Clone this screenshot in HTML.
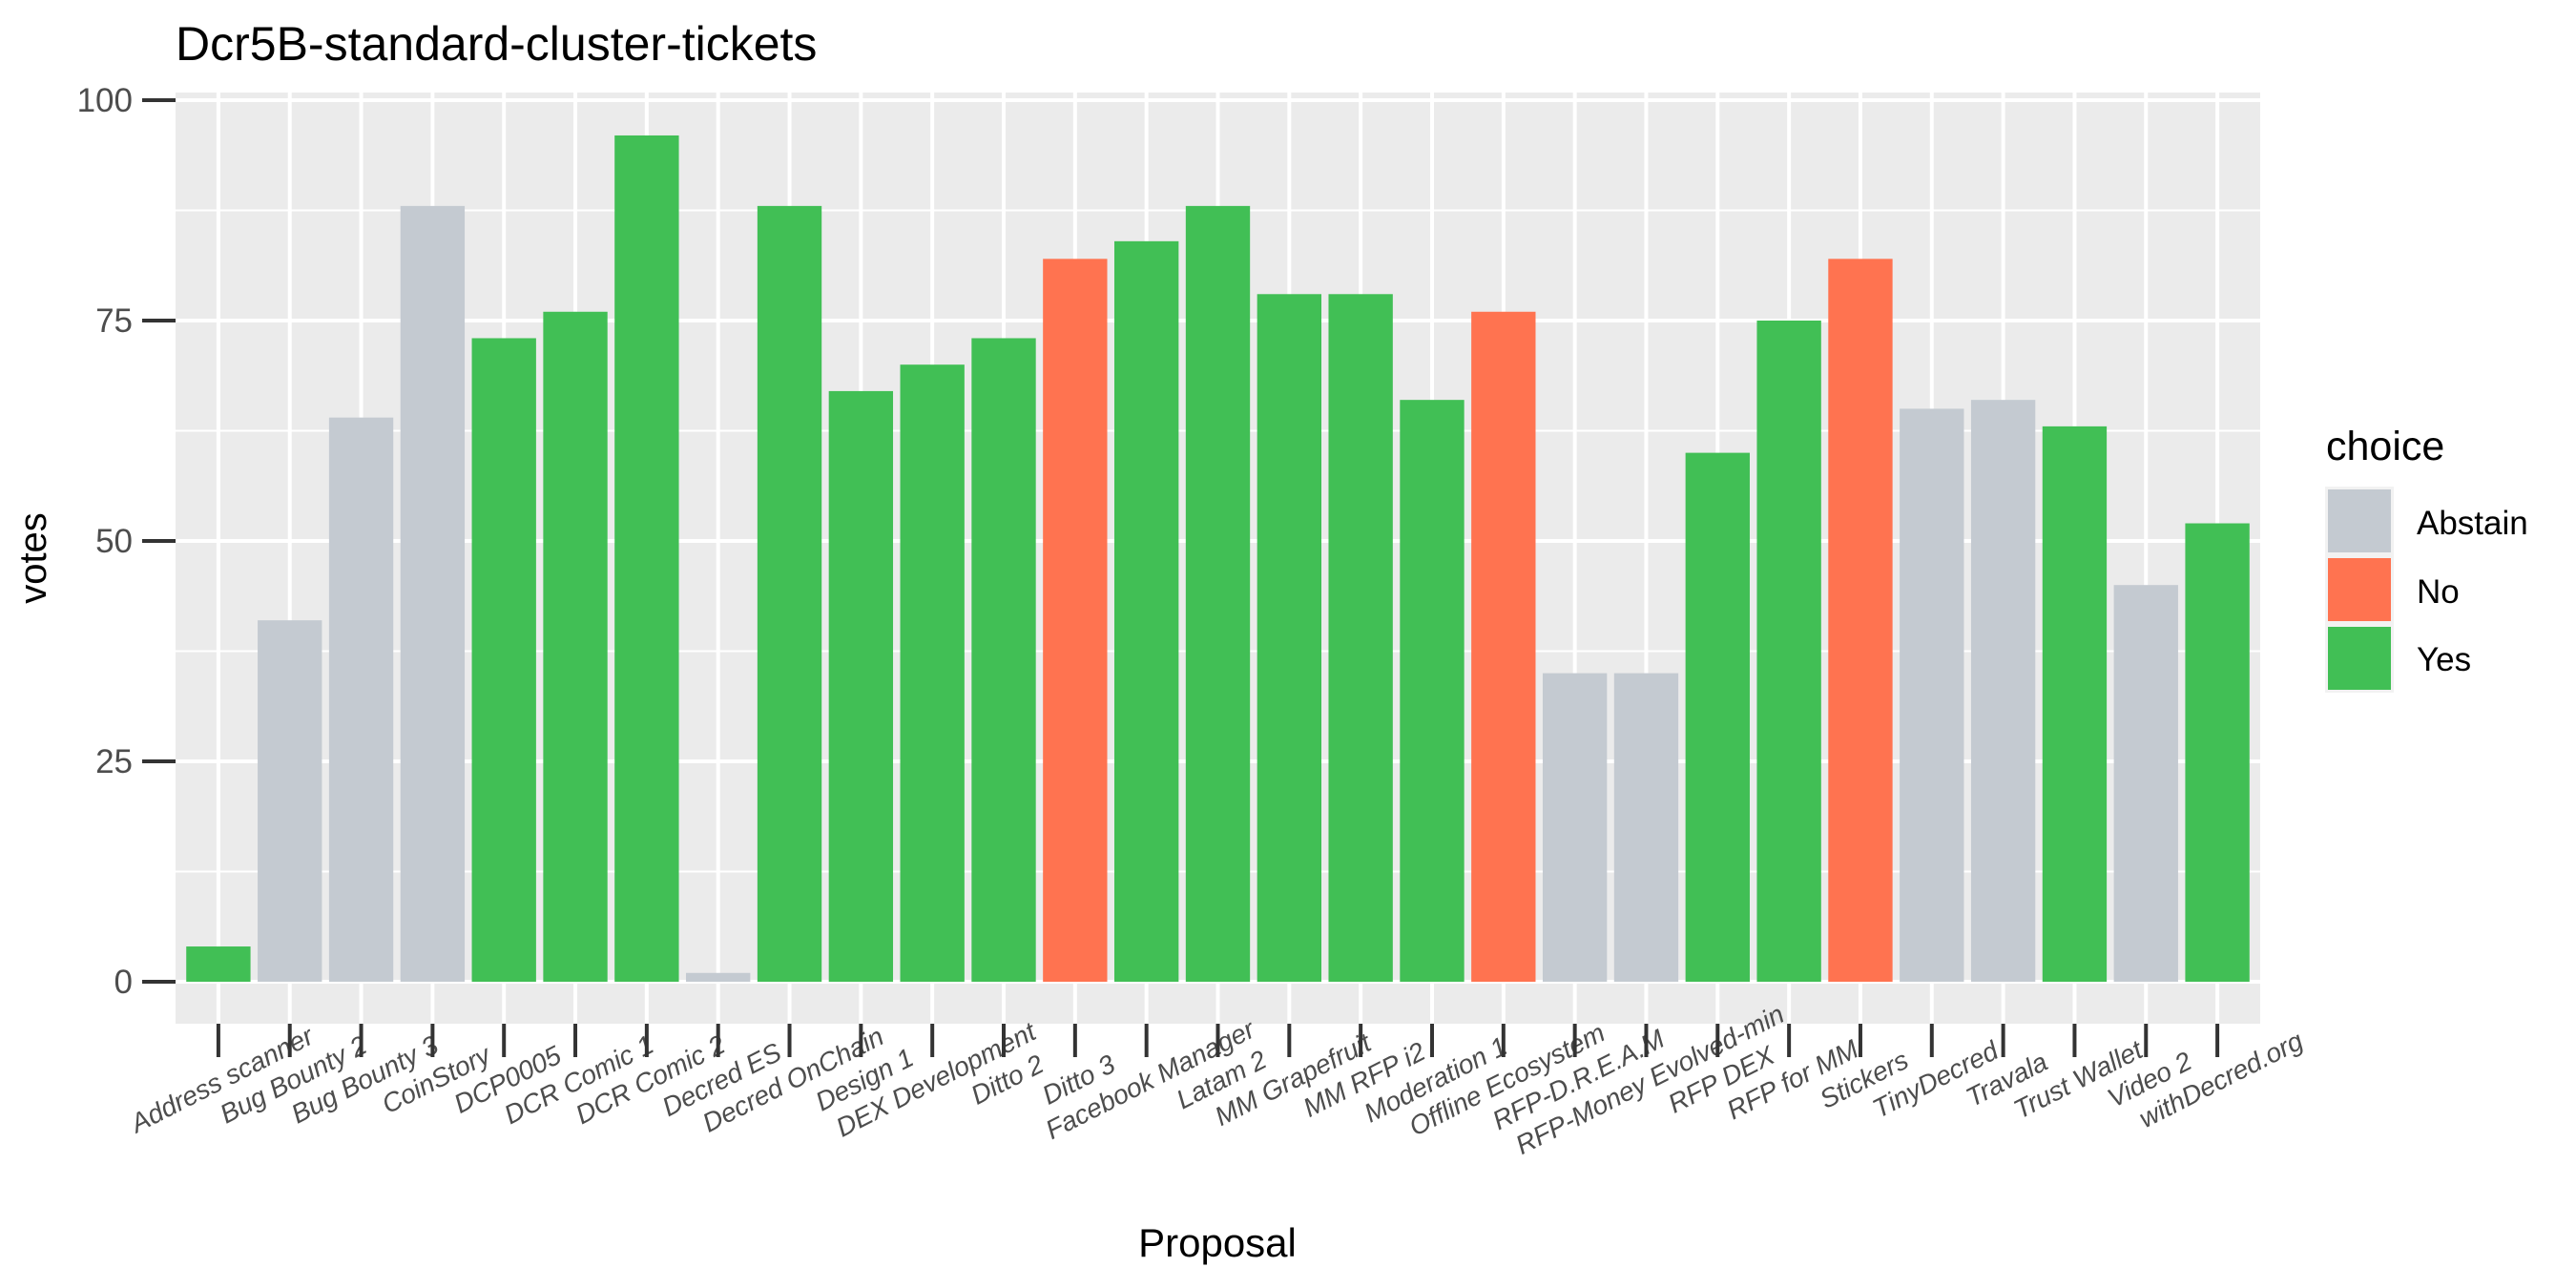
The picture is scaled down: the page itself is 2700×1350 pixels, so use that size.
<!DOCTYPE html>
<html><head><meta charset="utf-8">
<style>
html,body{margin:0;padding:0;background:#fff;}
svg{display:block;font-family:"Liberation Sans",Arial,sans-serif;}
</style></head>
<body>
<svg id="chart" width="2700" height="1350" viewBox="0 0 2700 1350" xmlns="http://www.w3.org/2000/svg">
<rect x="0" y="0" width="2700" height="1350" fill="#fff"/>
<text x="184" y="63" font-size="50" fill="#000">Dcr5B-standard-cluster-tickets</text>
<rect x="184" y="97" width="2185" height="976" fill="#ebebeb"/>
<g id="grid"></g>
<g id="bars"></g>
<g id="yaxis"></g>
<g id="xaxis"></g>
<text transform="translate(48,585) rotate(-90)" text-anchor="middle" font-size="40" fill="#000">votes</text>
<text x="1276" y="1317" text-anchor="middle" font-size="42" fill="#000">Proposal</text>
<g>
  <text x="2438" y="482" font-size="43" fill="#000">choice</text>
  <rect x="2437" y="510" width="72" height="216" fill="#f2f2f2"/>
  <rect x="2440" y="513" width="66" height="66" fill="#c4cad1"/>
  <rect x="2440" y="585" width="66" height="66" fill="#ff7350"/>
  <rect x="2440" y="657" width="66" height="66" fill="#41bf55"/>
  <text x="2533" y="560" font-size="35" fill="#000">Abstain</text>
  <text x="2533" y="632" font-size="35" fill="#000">No</text>
  <text x="2533" y="703" font-size="35" fill="#000">Yes</text>
</g>
</svg>
<script>
const categories = ["Address scanner","Bug Bounty 2","Bug Bounty 3","CoinStory","DCP0005","DCR Comic 1","DCR Comic 2","Decred ES","Decred OnChain","Design 1","DEX Development","Ditto 2","Ditto 3","Facebook Manager","Latam 2","MM Grapefruit","MM RFP i2","Moderation 1","Offline Ecosystem","RFP-D.R.E.A.M","RFP-Money Evolved-min","RFP DEX","RFP for MM","Stickers","TinyDecred","Travala","Trust Wallet","Video 2","withDecred.org"];
const votes = [4,41,64,88,73,76,96,1,88,67,70,73,82,84,88,78,78,66,76,35,35,60,75,82,65,66,63,45,52];
const choices = ["Yes","Abstain","Abstain","Abstain","Yes","Yes","Yes","Abstain","Yes","Yes","Yes","Yes","No","Yes","Yes","Yes","Yes","Yes","No","Abstain","Abstain","Yes","Yes","No","Abstain","Abstain","Yes","Abstain","Yes"];
const yTicks = [0,25,50,75,100];
const yTickLabels = ["0","25","50","75","100"];

const NS = "http://www.w3.org/2000/svg";
const colors = {Abstain:"#c4cad1", No:"#ff7350", Yes:"#41bf55"};
const panel = {x0:184, x1:2369, y0:97, y1:1073};
const yScale = v => 1029 - v * 9.24;
const unit = (panel.x1 - panel.x0) / (categories.length - 1 + 1.2);
const xScale = i => panel.x0 + (0.6 + i) * unit;

function mk(tag, parent, attrs){
  const el = document.createElementNS(NS, tag);
  for (const k in attrs) el.setAttribute(k, attrs[k]);
  parent.appendChild(el);
  return el;
}
const grid = document.getElementById('grid');
// minor horizontal
for (let k = 0; k < yTicks.length - 1; k++) {
  const v = (yTicks[k] + yTicks[k+1]) / 2;
  const l = mk('line', grid, {x1:panel.x0, x2:panel.x1, y1:yScale(v), y2:yScale(v), stroke:'#fff', 'stroke-width':2});
  
  
}
yTicks.forEach(v => {
  const l = mk('line', grid, {x1:panel.x0, x2:panel.x1, y1:yScale(v), y2:yScale(v), stroke:'#fff', 'stroke-width':4});
  
  
});
categories.forEach((c, i) => {
  const l = mk('line', grid, {x1:xScale(i), x2:xScale(i), y1:panel.y0, y2:panel.y1, stroke:'#fff', 'stroke-width':4});
  
  
});
const bars = document.getElementById('bars');
const bw = unit * 0.9;
votes.forEach((v, i) => {
  const r = mk('rect', bars, {x:xScale(i) - bw/2, y:yScale(v), width:bw, height:yScale(0) - yScale(v), fill:colors[choices[i]]});
  
  
});
const yaxis = document.getElementById('yaxis');
yTicks.forEach((v, k) => {
  const t = mk('line', yaxis, {x1:149, x2:184, y1:yScale(v), y2:yScale(v), stroke:'#333', 'stroke-width':4});
  
  
  const tx = mk('text', yaxis, {x:139, y:yScale(v) + 12, 'text-anchor':'end', 'font-size':35, fill:'#4d4d4d'});
  tx.textContent = yTickLabels[k];
  
  
});
const xaxis = document.getElementById('xaxis');
categories.forEach((c, i) => {
  const x = xScale(i);
  const t = mk('line', xaxis, {x1:x, x2:x, y1:1073, y2:1108, stroke:'#333', 'stroke-width':4});
  
  
  const tx = mk('text', xaxis, {transform:`translate(${x+8},${1140}) rotate(-27)`, 'text-anchor':'middle', 'font-size':28, 'font-style':'italic', fill:'#4d4d4d'});
  tx.textContent = c;
  
  
});
</script>
</body></html>
